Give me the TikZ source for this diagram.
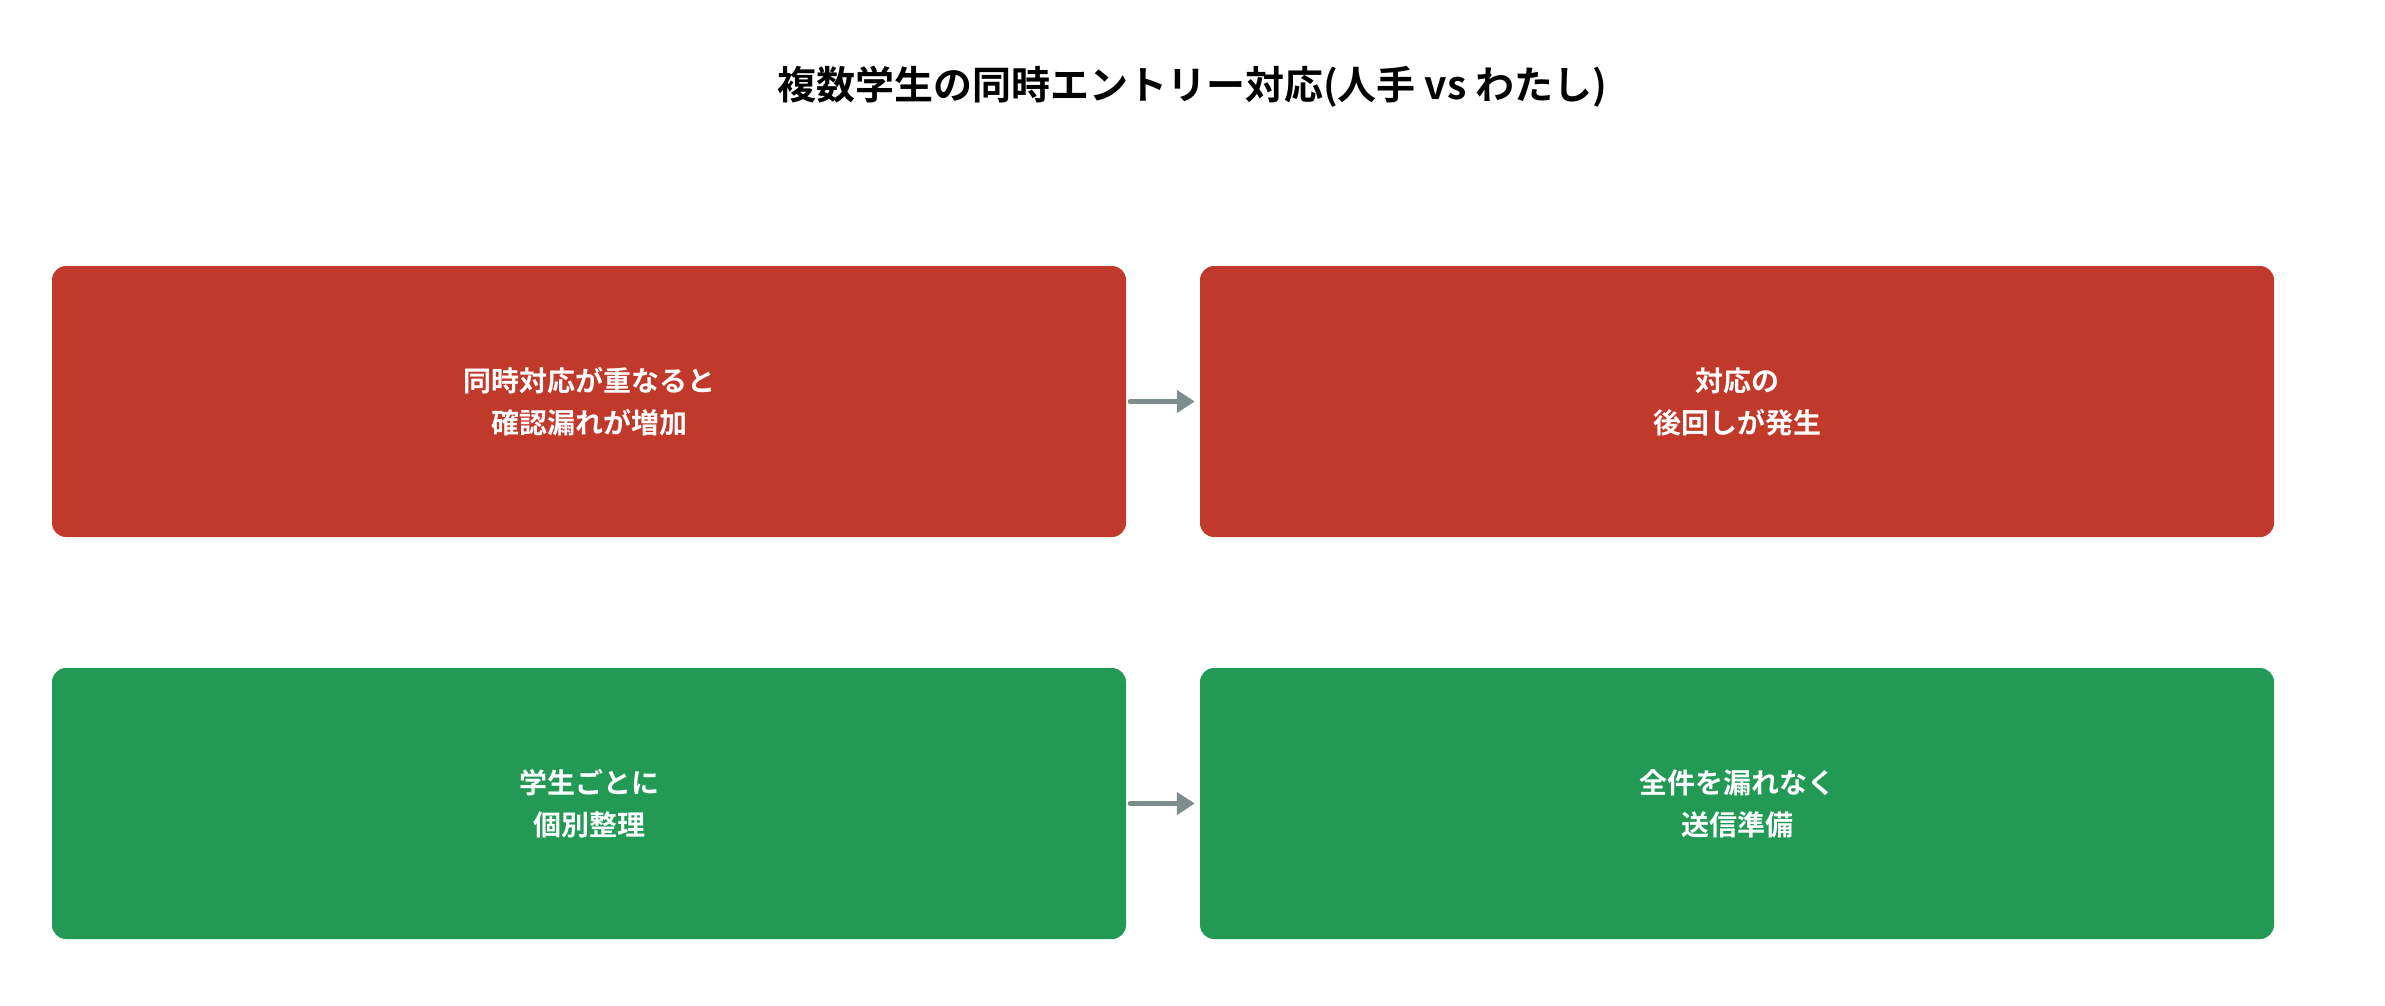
\documentclass[tikz,border=0pt]{standalone}
\usepackage{fontspec}
\setmainfont{Noto Sans CJK JP}[BoldFont={* Bold}]
\usetikzlibrary{arrows.meta}
\definecolor{redbox}{HTML}{C0392B}
\definecolor{greenbox}{HTML}{229954}
\definecolor{arrowgray}{HTML}{7F8C8D}
\tikzset{
  box/.style={rounded corners=14pt, minimum width=1074pt, minimum height=271pt, inner sep=0pt,
    text=white, font=\fontsize{28}{42}\selectfont\bfseries, align=center},
  redb/.style={box, fill=redbox},
  greenb/.style={box, fill=greenbox},
  conn/.style={draw=arrowgray, line width=5pt, line cap=round, -{Triangle[length=18pt,width=22pt]}, shorten <=4pt, shorten >=5pt}
}
\begin{document}
\begin{tikzpicture}[x=1pt,y=-1pt]
\useasboundingbox (0,0) rectangle (2385,1005);
\node (title) at (1192,87) {\fontsize{39}{46}\selectfont\bfseries 複数学生の同時エントリー対応(人手 vs わたし)};
\node[redb] (a) at (589,401.5) {同時対応が重なると\\確認漏れが増加};
\node[redb] (b) at (1737,401.5) {対応の\\後回しが発生};
\node[greenb] (c) at (589,803.5) {学生ごとに\\個別整理};
\node[greenb] (d) at (1737,803.5) {全件を漏れなく\\送信準備};
\draw[conn] (a) -- (b);
\draw[conn] (c) -- (d);
\end{tikzpicture}
\end{document}
